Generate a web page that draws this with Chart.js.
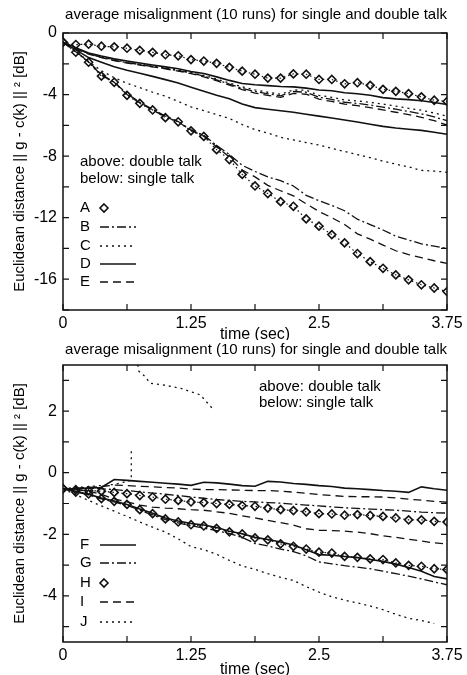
<!DOCTYPE html>
<html>
<head>
<meta charset="utf-8">
<title>average misalignment</title>
<script src="https://cdn.jsdelivr.net/npm/chart.js@4.4.0/dist/chart.umd.min.js"></script>
<style>
  body { margin: 0; background: #fff; }
  canvas { display: block; }
</style>
</head>
<body>
<canvas id="topChart" width="467" height="340"></canvas>
<canvas id="bottomChart" width="467" height="335"></canvas>
<script>
// time axis (sec), one sample every 0.125 s
const time = [0, 0.125, 0.25, 0.375, 0.5, 0.625, 0.75, 0.875, 1, 1.125, 1.25, 1.375, 1.5, 1.625, 1.75, 1.875,
              2, 2.125, 2.25, 2.375, 2.5, 2.625, 2.75, 2.875, 3, 3.125, 3.25, 3.375, 3.5, 3.625, 3.75];

const xTicks = [0, 0.625, 1.25, 1.875, 2.5, 3.125, 3.75];
const xTickLabels = ['0', '', '1.25', '', '2.5', '', '3.75'];
const topYTicks = [-18, -16, -14, -12, -10, -8, -6, -4, -2, 0];
const topYLabels = ['', '-16', '', '-12', '', '-8', '', '-4', '', '0'];
const bottomYTicks = [-5, -4, -3, -2, -1, 0, 1, 2, 3];
const bottomYLabels = ['', '-4', '', '-2', '', '0', '', '2', ''];

// upper panel, double talk (above) and single talk (below), dB
const aDouble = [-0.6, -0.75, -0.73, -0.86, -0.9, -0.99, -1.13, -1.26, -1.41, -1.48, -1.73, -1.82, -1.97, -2.23, -2.48, -2.68,
                 -2.93, -2.93, -2.66, -2.68, -3.02, -3.02, -3.3, -3.23, -3.4, -3.66, -3.79, -3.94, -4.15, -4.37, -4.45];
const aSingle = [-0.6, -1.25, -1.9, -2.8, -3.2, -4.05, -4.57, -5.0, -5.5, -5.77, -6.36, -6.72, -7.58, -8.22, -9.19, -9.94,
                 -10.43, -10.96, -11.26, -12.08, -12.55, -13.1, -13.64, -14.33, -14.86, -15.29, -15.72, -16.04, -16.36, -16.57, -16.8];
const bDouble = [-0.6, -1.0, -1.35, -1.58, -1.78, -1.92, -2.05, -2.18, -2.3, -2.45, -2.6, -2.8, -3.05, -3.32, -3.6, -3.8,
                 -3.95, -4.08, -3.8, -3.85, -4.18, -4.32, -4.5, -4.58, -4.68, -4.82, -4.95, -5.1, -5.25, -5.45, -5.7];
const bSingle = [-0.6, -1.2, -1.85, -2.7, -3.2, -3.95, -4.5, -4.95, -5.4, -5.75, -6.3, -6.65, -7.3, -7.9, -8.6, -9.0,
                 -9.35, -9.6, -9.94, -10.55, -10.9, -11.2, -11.55, -12.1, -12.45, -12.8, -13.2, -13.45, -13.7, -13.85, -14.0];
const cDouble = [-0.6, -1.0, -1.33, -1.55, -1.75, -1.9, -2.03, -2.15, -2.28, -2.42, -2.57, -2.75, -3.0, -3.25, -3.5, -3.7,
                 -3.85, -3.98, -3.7, -3.72, -4.05, -4.18, -4.35, -4.42, -4.5, -4.62, -4.75, -4.9, -5.02, -5.2, -5.4];
const cSingle = [-0.6, -1.2, -1.85, -2.45, -2.9, -3.27, -3.55, -3.85, -4.1, -4.45, -4.8, -5.05, -5.3, -5.55, -5.95, -6.28,
                 -6.5, -6.78, -6.95, -7.12, -7.28, -7.5, -7.7, -7.9, -8.1, -8.33, -8.52, -8.7, -8.93, -8.97, -9.05];
const dDouble = [-0.6, -0.95, -1.3, -1.5, -1.68, -1.82, -1.95, -2.08, -2.2, -2.32, -2.5, -2.63, -2.85, -3.08, -3.28, -3.36,
                 -3.42, -3.48, -3.5, -3.58, -3.7, -3.75, -3.88, -3.95, -4.05, -4.2, -4.28, -4.33, -4.4, -4.52, -4.65];
const dSingle = [-0.6, -1.1, -1.6, -1.9, -2.2, -2.42, -2.62, -2.82, -3.03, -3.25, -3.52, -3.78, -4.05, -4.27, -4.62, -4.85,
                 -4.95, -5.05, -5.15, -5.28, -5.4, -5.52, -5.65, -5.78, -5.93, -6.07, -6.17, -6.25, -6.33, -6.45, -6.58];
const eDouble = [-0.6, -1.02, -1.37, -1.6, -1.8, -1.95, -2.08, -2.2, -2.33, -2.48, -2.64, -2.85, -3.1, -3.38, -3.68, -3.9,
                 -4.05, -4.18, -3.92, -3.98, -4.3, -4.45, -4.62, -4.72, -4.85, -5.0, -5.15, -5.3, -5.48, -5.7, -5.98];
const eSingle = [-0.6, -1.22, -1.88, -2.75, -3.2, -4.0, -4.55, -5.0, -5.45, -5.77, -6.33, -6.7, -7.4, -8.05, -8.9, -9.35,
                 -9.9, -10.25, -10.58, -11.1, -11.6, -12.0, -12.45, -13.05, -13.4, -13.78, -14.15, -14.4, -14.6, -14.8, -14.97];

// lower panel
const fDouble = [-0.52, -0.52, -0.5, -0.48, -0.22, -0.25, -0.28, -0.31, -0.34, -0.37, -0.41, -0.31, -0.33, -0.37, -0.42, -0.44,
                 -0.28, -0.3, -0.35, -0.38, -0.42, -0.45, -0.5, -0.52, -0.55, -0.58, -0.6, -0.64, -0.46, -0.52, -0.57];
const fSingle = [-0.52, -0.6, -0.7, -0.82, -0.92, -1.03, -1.18, -1.32, -1.47, -1.57, -1.65, -1.7, -1.78, -1.9, -1.98, -2.1,
                 -2.17, -2.25, -2.35, -2.5, -2.66, -2.68, -2.72, -2.76, -2.82, -2.88, -2.97, -3.08, -3.2, -3.37, -3.45];
const gDouble = [-0.52, -0.52, -0.5, -0.52, -0.55, -0.58, -0.62, -0.66, -0.7, -0.74, -0.79, -0.83, -0.87, -0.9, -0.93, -0.95,
                 -0.97, -0.99, -1.02, -1.05, -1.08, -1.11, -1.14, -1.16, -1.18, -1.2, -1.22, -1.25, -1.28, -1.3, -1.31];
const gSingle = [-0.52, -0.62, -0.72, -0.85, -0.95, -1.06, -1.22, -1.37, -1.52, -1.63, -1.72, -1.8, -1.88, -1.98, -2.1, -2.3,
                 -2.38, -2.48, -2.56, -2.7, -2.9, -2.96, -3.02, -3.07, -3.12, -3.2, -3.28, -3.36, -3.45, -3.55, -3.64];
const hDouble = [-0.52, -0.55, -0.58, -0.6, -0.64, -0.68, -0.74, -0.79, -0.86, -0.9, -0.95, -0.97, -1.0, -1.03, -1.07, -1.09,
                 -1.15, -1.2, -1.23, -1.27, -1.33, -1.34, -1.38, -1.36, -1.39, -1.42, -1.47, -1.53, -1.53, -1.58, -1.6];
const hSingle = [-0.52, -0.63, -0.69, -0.84, -0.93, -1.03, -1.2, -1.33, -1.5, -1.6, -1.69, -1.73, -1.81, -1.92, -1.99, -2.12,
                 -2.18, -2.31, -2.39, -2.48, -2.58, -2.61, -2.72, -2.75, -2.8, -2.82, -2.93, -3.01, -3.04, -3.12, -3.15];
const iDouble = [-0.52, -0.5, -0.48, -0.45, -0.4, -0.42, -0.44, -0.46, -0.48, -0.5, -0.53, -0.55, -0.55, -0.56, -0.57, -0.58,
                 -0.58, -0.6, -0.63, -0.67, -0.71, -0.74, -0.77, -0.78, -0.78, -0.79, -0.82, -0.86, -0.89, -0.93, -0.96];
const iSingle = [-0.52, -0.55, -0.6, -0.7, -0.85, -0.95, -1.05, -1.12, -1.15, -1.17, -1.2, -1.22, -1.27, -1.32, -1.4, -1.47,
                 -1.55, -1.62, -1.7, -1.82, -1.87, -1.88, -1.9, -1.93, -1.98, -2.05, -2.1, -2.16, -2.22, -2.28, -2.31];
const jSingle = [-0.52, -0.72, -0.9, -1.08, -1.25, -1.42, -1.6, -1.77, -1.93, -2.15, -2.4, -2.5, -2.65, -2.85, -3.03, -3.14,
                 -3.28, -3.4, -3.5, -3.7, -3.88, -4.03, -4.14, -4.23, -4.33, -4.45, -4.6, -4.73, -4.8, -4.9, null];
// J double talk leaves the plot near 0.67 s and comes back from above
const jDoubleTime = [0, 0.25, 0.5, 0.667, 0.667, 0.7, 0.72, 0.74, 0.8, 0.85, 1.0, 1.15, 1.34, 1.47];
const jDouble = [-0.52, -0.45, -0.38, -0.25, 0.75, null, 3.7, 3.3, 3.13, 2.91, 2.84, 2.74, 2.53, 2.05];

const FONT = '"Liberation Sans", Arial, Helvetica, sans-serif';
Chart.defaults.font.family = FONT;
Chart.defaults.color = '#000';

const styles = {
  solid:   { dash: [], width: 1.6 },
  dashdot: { dash: [9, 3, 2, 3], width: 1.3 },
  dotted:  { dash: [2, 4], width: 1.3 },
  dashed:  { dash: [8, 5], width: 1.3 },
  diamond: { dash: [1.5, 3], width: 1.2, marker: true }
};

function series(label, ys, style, xs) {
  const st = styles[style];
  const t = xs || time;
  return {
    label: label,
    data: t.map((x, i) => ({ x: x, y: ys[i] })),
    borderColor: '#111',
    borderWidth: st.width,
    borderDash: st.dash,
    pointRadius: st.marker ? 4 : 0,
    pointStyle: 'rectRot',
    pointBorderWidth: 1.6,
    pointBorderColor: '#111',
    pointBackgroundColor: 'rgba(0,0,0,0)',
    fill: false,
    tension: 0,
    spanGaps: false
  };
}

// frame, inward ticks, notes and hand-made key
const framePlugin = {
  id: 'frame',
  afterDatasetsDraw(chart, args, opts) {
    const { ctx, chartArea: a, scales: { x, y } } = chart;
    ctx.save();
    ctx.strokeStyle = '#111';
    ctx.setLineDash([]);
    ctx.lineWidth = 1.5;
    ctx.strokeRect(a.left, a.top, a.width, a.height);
    ctx.lineWidth = 1.2;
    ctx.beginPath();
    x.ticks.forEach(t => {
      const px = x.getPixelForValue(t.value);
      ctx.moveTo(px, a.bottom); ctx.lineTo(px, a.bottom - 6);
      ctx.moveTo(px, a.top); ctx.lineTo(px, a.top + 6);
    });
    y.ticks.forEach(t => {
      const py = y.getPixelForValue(t.value);
      ctx.moveTo(a.left, py); ctx.lineTo(a.left + 6, py);
      ctx.moveTo(a.right, py); ctx.lineTo(a.right - 6, py);
    });
    ctx.stroke();

    ctx.fillStyle = '#000';
    ctx.font = '15px ' + FONT;
    ctx.textBaseline = 'middle';
    ctx.textAlign = 'left';
    opts.notes.forEach(n => ctx.fillText(n.text, n.x, n.y));

    opts.key.forEach(k => {
      ctx.fillText(k.label, k.x, k.y);
      const st = styles[k.style];
      ctx.lineWidth = st.width;
      if (st.marker) {
        ctx.setLineDash([]);
        ctx.lineWidth = 1.6;
        const cx = k.x + 24, r = 4;
        ctx.beginPath();
        ctx.moveTo(cx, k.y - r); ctx.lineTo(cx + r, k.y); ctx.lineTo(cx, k.y + r); ctx.lineTo(cx - r, k.y);
        ctx.closePath();
        ctx.stroke();
      } else {
        ctx.setLineDash(st.dash);
        ctx.beginPath();
        ctx.moveTo(k.x + 20, k.y);
        ctx.lineTo(k.x + 56, k.y);
        ctx.stroke();
      }
    });
    ctx.restore();
  }
};

function makeScales(yMin, yMax, yTicks, yLabels, xAxisHeight) {
  return {
    x: {
      type: 'linear', min: 0, max: 3.75,
      afterBuildTicks: s => { s.ticks = xTicks.map(v => ({ value: v })); },
      afterFit: s => { s.height = xAxisHeight; },
      ticks: { callback: (v, i) => xTickLabels[i], font: { size: 16 }, color: '#000', padding: 4, maxRotation: 0, autoSkip: false },
      grid: { display: false, drawTicks: false },
      border: { display: false },
      title: { display: true, text: 'time (sec)', font: { size: 16, lineHeight: 1 }, color: '#000', padding: { top: 0, bottom: -3 } }
    },
    y: {
      type: 'linear', min: yMin, max: yMax,
      afterBuildTicks: s => { s.ticks = yTicks.map(v => ({ value: v })); },
      afterFit: s => { s.width = 63; },
      ticks: { callback: (v, i) => yLabels[i], font: { size: 16 }, color: '#000', padding: 6, autoSkip: false },
      grid: { display: false, drawTicks: false },
      border: { display: false },
      title: { display: true, text: 'Euclidean distance || g - c(k) || ² [dB]', font: { size: 15 }, color: '#000', padding: { top: 11, bottom: 0 } }
    }
  };
}

const titleText = 'average misalignment (10 runs) for single and double talk';

new Chart(document.getElementById('topChart'), {
  type: 'line',
  data: {
    datasets: [
      series('B above', bDouble, 'dashdot'),
      series('C above', cDouble, 'dotted'),
      series('D above', dDouble, 'solid'),
      series('E above', eDouble, 'dashed'),
      series('B below', bSingle, 'dashdot'),
      series('C below', cSingle, 'dotted'),
      series('D below', dSingle, 'solid'),
      series('E below', eSingle, 'dashed'),
      series('A above', aDouble, 'diamond'),
      series('A below', aSingle, 'diamond')
    ]
  },
  options: {
    responsive: false, animation: false, devicePixelRatio: 1,
    layout: { padding: { left: 0, right: 20, top: 0, bottom: 0 } },
    scales: makeScales(-18, 0, topYTicks, topYLabels, 30),
    plugins: {
      legend: { display: false },
      tooltip: { enabled: false },
      title: { display: true, align: 'end', text: titleText, font: { size: 15, weight: 'normal' }, color: '#000', padding: { top: 6, bottom: 9 } },
      frame: {
        notes: [
          { text: 'above: double talk', x: 80, y: 162 },
          { text: 'below: single talk', x: 80, y: 179 }
        ],
        key: [
          { label: 'A', style: 'diamond', x: 80, y: 208 },
          { label: 'B', style: 'dashdot', x: 80, y: 227 },
          { label: 'C', style: 'dotted', x: 80, y: 246 },
          { label: 'D', style: 'solid', x: 80, y: 264 },
          { label: 'E', style: 'dashed', x: 80, y: 282 }
        ]
      }
    }
  },
  plugins: [framePlugin]
});

new Chart(document.getElementById('bottomChart'), {
  type: 'line',
  data: {
    datasets: [
      series('F above', fDouble, 'solid'),
      series('G above', gDouble, 'dashdot'),
      series('I above', iDouble, 'dashed'),
      series('J above', jDouble, 'dotted', jDoubleTime),
      series('F below', fSingle, 'solid'),
      series('G below', gSingle, 'dashdot'),
      series('I below', iSingle, 'dashed'),
      series('J below', jSingle, 'dotted'),
      series('H above', hDouble, 'diamond'),
      series('H below', hSingle, 'diamond')
    ]
  },
  options: {
    responsive: false, animation: false, devicePixelRatio: 1,
    layout: { padding: { left: 0, right: 20, top: 0, bottom: 0 } },
    scales: makeScales(-5.5, 3.5, bottomYTicks, bottomYLabels, 33),
    plugins: {
      legend: { display: false },
      tooltip: { enabled: false },
      title: { display: true, align: 'end', text: titleText, font: { size: 15, weight: 'normal' }, color: '#000', padding: { top: 1, bottom: 6 } },
      frame: {
        notes: [
          { text: 'above: double talk', x: 259, y: 47 },
          { text: 'below: single talk', x: 259, y: 63 }
        ],
        key: [
          { label: 'F', style: 'solid', x: 80, y: 205 },
          { label: 'G', style: 'dashdot', x: 80, y: 223 },
          { label: 'H', style: 'diamond', x: 80, y: 243 },
          { label: 'I', style: 'dashed', x: 80, y: 262 },
          { label: 'J', style: 'dotted', x: 80, y: 282 }
        ]
      }
    }
  },
  plugins: [framePlugin]
});
</script>
</body>
</html>
